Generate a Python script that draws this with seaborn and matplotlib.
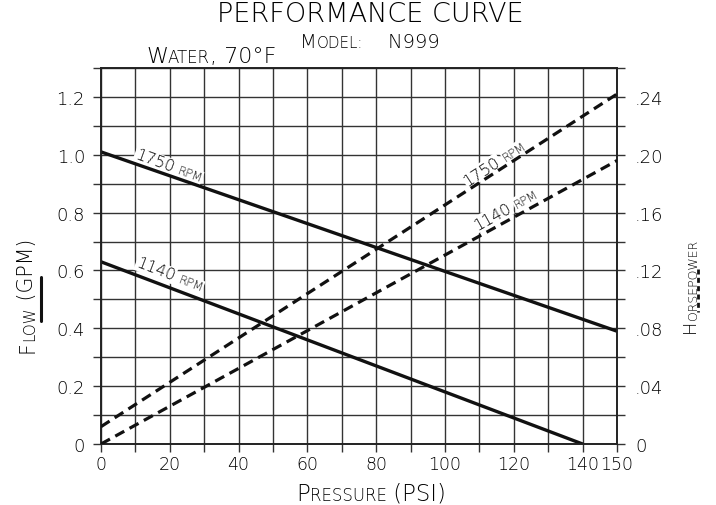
import numpy as np
import pandas as pd
import matplotlib
matplotlib.use("Agg")
import matplotlib.pyplot as plt
import seaborn as sns
from matplotlib.offsetbox import TextArea, HPacker, AnnotationBbox
from matplotlib.lines import Line2D
from matplotlib.transforms import offset_copy

# ---------------- data ----------------
pressure_1750 = [0, 150]
flow_1750 = [1.01, 0.39]
pressure_1140 = [0, 140]
flow_1140 = [0.63, 0.0]
hp_pressure = [0, 150]
hp_1750 = [0.012, 0.242]
hp_1140 = [0.0, 0.196]

x_ticks = [0, 10, 20, 30, 40, 50, 60, 70, 80, 90, 100, 110, 120, 130, 140, 150]
x_tick_labels = ["0", "", "20", "", "40", "", "60", "", "80", "", "100", "", "120", "", "140", "150"]
flow_ticks = [0, 0.1, 0.2, 0.3, 0.4, 0.5, 0.6, 0.7, 0.8, 0.9, 1.0, 1.1, 1.2, 1.3]
flow_tick_labels = ["0", "", "0.2", "", "0.4", "", "0.6", "", "0.8", "", "1.0", "", "1.2", ""]
hp_ticks = [0, 0.02, 0.04, 0.06, 0.08, 0.10, 0.12, 0.14, 0.16, 0.18, 0.20, 0.22, 0.24, 0.26]
hp_tick_labels = ["0", "", ".04", "", ".08", "", ".12", "", ".16", "", ".20", "", ".24", ""]

sns.set_style("ticks")
plt.rcParams["font.family"] = ["DejaVu Sans"]
plt.rcParams["font.weight"] = "light"
INK = "#000000"

W, H = 716, 506
fig = plt.figure(figsize=(W / 100, H / 100), dpi=100)
ax = fig.add_axes([101 / W, (H - 445) / H, 516 / W, 376 / H])
ax2 = ax.twinx()

def px(x, y):
    return (x / W, 1 - y / H)

# ---------------- lines ----------------
sns.lineplot(x=pressure_1750, y=flow_1750, ax=ax, color="#111111", lw=2.4, zorder=4)
sns.lineplot(x=pressure_1140, y=flow_1140, ax=ax, color="#111111", lw=2.4, zorder=4)
sns.lineplot(x=hp_pressure, y=hp_1750, ax=ax2, color="#111111", lw=2.3, zorder=4)
sns.lineplot(x=hp_pressure, y=hp_1140, ax=ax2, color="#111111", lw=2.3, zorder=4)
for ln in ax2.lines:
    ln.set_dashes((3.2, 1.9))

ax.set_xlim(0, 150)
ax.set_ylim(0, 1.3)
ax2.set_ylim(0, 0.26)

ax.set_xticks(x_ticks)
ax.set_xticklabels(x_tick_labels)
ax.set_yticks(flow_ticks)
ax.set_yticklabels(flow_tick_labels)
ax2.set_yticks(hp_ticks)
ax2.set_yticklabels(hp_tick_labels)

ax.grid(True, color="#333333", lw=1.0)
ax.set_axisbelow(True)
ax2.grid(False)
ax.tick_params(axis="x", length=6, width=1.0, color="#333333", labelsize=12.5,
               pad=2, labelcolor=INK)
ax.tick_params(axis="y", length=6, width=1.0, color="#333333", labelsize=13,
               pad=5.5, labelcolor=INK)
ax2.tick_params(axis="y", length=6, width=1.0, color="#333333", labelsize=13,
                pad=7, labelcolor=INK)
for a in (ax, ax2):
    for s in a.spines.values():
        s.set_color("#222222")
        s.set_linewidth(1.2)
ax.set_xlabel("")
ax.set_ylabel("")
ax2.set_ylabel("")

fig.canvas.draw()
renderer = fig.canvas.get_renderer()

def text_width(txt, size):
    t = fig.text(0, 0, txt, fontsize=size)
    w = t.get_window_extent(renderer).width
    t.remove()
    return w

# ---------------- small-caps horizontal texts ----------------
def sc_text(xpx, ypx, parts, align=(0.5, 0)):
    boxes = [TextArea(t, textprops=dict(fontsize=s, color=INK)) for t, s in parts]
    pack = HPacker(children=boxes, align="baseline", pad=0, sep=0)
    ab = AnnotationBbox(pack, px(xpx, ypx), xycoords="figure fraction",
                        box_alignment=align, frameon=False, pad=0,
                        annotation_clip=False)
    fig.add_artist(ab)

fig.text(*px(370, 22), "PERFORMANCE CURVE", ha="center", va="baseline",
         fontsize=19.5, color=INK)
sc_text(370, 51.5, [("M", 14), ("ODEL:", 10.8), ("    N999", 14)])
sc_text(146, 67, [("W", 16), ("ATER", 12), (", 70°F", 16)], align=(0, 0))
sc_text(371, 506, [("P", 16.5), ("RESSURE", 12), (" (PSI)", 16.5)])

# ---------------- small-caps rotated axis labels ----------------
def sc_vertical(xpx, ypx, parts):
    first = fig.text(*px(xpx, ypx), parts[0][0], fontsize=parts[0][1], rotation=90,
                     ha="right", va="bottom", color=INK)
    prev = first
    for t, s in parts[1:]:
        prev = ax.annotate(t, xy=(1, 1), xycoords=prev, rotation=90, ha="right",
                           va="bottom", fontsize=s, color=INK, annotation_clip=False)

sc_vertical(37, 353, [("F", 14.8), ("LOW", 10.8), (" (GPM)", 14.8)])
sc_vertical(699, 333, [("H", 12.8), ("ORSEPOWER", 9.0)])

fig.add_artist(Line2D([40.7 / W, 40.7 / W], [1 - 278 / H, 1 - 322 / H],
                      transform=fig.transFigure, color="#111111", lw=2.2))
fig.add_artist(Line2D([698 / W, 698 / W], [1 - 270 / H, 1 - 313 / H],
                      transform=fig.transFigure, color="#111111", lw=2.0,
                      dashes=(1.8, 1.2)))

# ---------------- rotated RPM labels on curves ----------------
def rpm_label(xd, yd, angle, parts, gap=4.5):
    widths = [text_width(t, s) for t, s in parts]
    total = sum(widths) + gap * (len(parts) - 1)
    ca, sa = np.cos(np.radians(angle)), np.sin(np.radians(angle))
    off = -total / 2
    for (t, s), w in zip(parts, widths):
        tr = offset_copy(ax.transData, fig=fig, x=off * ca, y=off * sa, units="dots")
        ax.text(xd, yd, t, transform=tr, fontsize=s, rotation=angle,
                rotation_mode="anchor", ha="left", va="baseline", color=INK,
                zorder=3, bbox=dict(fc="white", ec="none", pad=0.6))
        off += w + gap

rpm_label(19.2, 0.947, -20, [("1750", 11.5), ("RPM", 8.5)])
rpm_label(19.5, 0.571, -21, [("1140", 11.5), ("RPM", 8.5)])
rpm_label(115.1, 0.959, 33, [("1750", 11.5), ("RPM", 8.5)])
rpm_label(118.2, 0.799, 29, [("1140", 11.5), ("RPM", 8.5)])

fig.savefig("out.png", dpi=100)
